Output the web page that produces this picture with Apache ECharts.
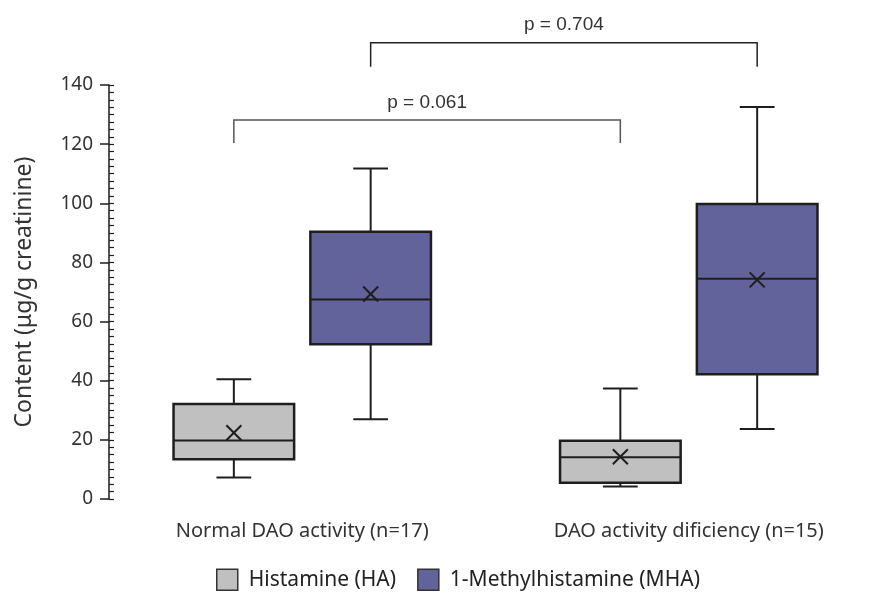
<!DOCTYPE html>
<html>
<head>
<meta charset="utf-8">
<script src="https://cdn.jsdelivr.net/npm/echarts@6/dist/echarts.min.js"></script>
<style>
  html, body { margin: 0; padding: 0; background: #fff; }
  #chart { width: 882px; height: 603px; }
</style>
</head>
<body>
<div id="chart"></div>
<script>
const groups = ['Normal DAO activity (n=17)', 'DAO activity dificiency (n=15)'];
// [min, Q1, median, Q3, max] for each group
const haBox = [[7.3, 13.4, 19.8, 32.1, 40.5], [4.2, 5.5, 14.1, 19.7, 37.4]];
const mhaBox = [[27.0, 52.3, 67.5, 90.4, 111.8], [23.7, 42.2, 74.5, 99.8, 132.6]];
const haMean = [22.4, 14.3];
const mhaMean = [69.3, 74.1];
const yMin = 0, yMax = 140, yStep = 20;
// significance brackets: label, which box (-1 = HA, 1 = MHA), leg bottom, bar height
const pLabels = ['p = 0.061', 'p = 0.704'];
const pSide = [-1, 1];
const pLow = [120.4, 146.2];
const pHigh = [128.2, 154.3];

const INK = '#1e1e1e';
const SHIFT = 0.177; // box offset from group centre, share of band

function boxItem(side) {
  return function (params, api) {
    const band = api.size([1, 0])[0];
    const g = api.value(0);
    const cx = api.coord([g, 0])[0] + side * band * SHIFT;
    const half = band * 0.156;
    const cap = band * 0.045;
    const y = i => api.coord([g, api.value(i)])[1];
    const lo = y(1), q1 = y(2), med = y(3), q3 = y(4), hi = y(5), mean = y(6);
    const ln = { stroke: INK, lineWidth: 2 };
    const m = 7.5;
    return {
      type: 'group',
      children: [
        { type: 'line', shape: { x1: cx, y1: hi, x2: cx, y2: q3 }, style: ln },
        { type: 'line', shape: { x1: cx, y1: q1, x2: cx, y2: lo }, style: ln },
        { type: 'line', shape: { x1: cx - cap, y1: hi, x2: cx + cap, y2: hi }, style: ln },
        { type: 'line', shape: { x1: cx - cap, y1: lo, x2: cx + cap, y2: lo }, style: ln },
        { type: 'rect', shape: { x: cx - half, y: q3, width: half * 2, height: q1 - q3 },
          style: { fill: api.visual('color'), stroke: INK, lineWidth: 2.5 } },
        { type: 'line', shape: { x1: cx - half, y1: med, x2: cx + half, y2: med }, style: ln },
        { type: 'line', shape: { x1: cx - m, y1: mean - m, x2: cx + m, y2: mean + m }, style: ln },
        { type: 'line', shape: { x1: cx - m, y1: mean + m, x2: cx + m, y2: mean - m }, style: ln }
      ]
    };
  };
}

function bracketItem(params, api) {
  const i = params.dataIndex;
  const band = api.size([1, 0])[0];
  const off = api.value(0) * band * SHIFT;
  const x1 = api.coord([0, 0])[0] + off;
  const x2 = api.coord([1, 0])[0] + off;
  const yl = api.coord([0, api.value(1)])[1];
  const yh = api.coord([0, api.value(2)])[1];
  return {
    type: 'group',
    children: [
      { type: 'polyline', shape: { points: [[x1, yl], [x1, yh], [x2, yh], [x2, yl]] },
        style: { stroke: i === 0 ? '#555' : '#222', lineWidth: 1.5, fill: null } },
      { type: 'text', x: (x1 + x2) / 2, y: yh - 8,
        style: { text: pLabels[i], align: 'center', verticalAlign: 'bottom',
                 fontFamily: 'Liberation Sans', fontSize: 19, fill: '#333' } }
    ]
  };
}

const chart = echarts.init(document.getElementById('chart'), null, { renderer: 'canvas' });

const option = {
  animation: false,
  backgroundColor: '#fff',
  grid: { left: 109, right: 0, top: 85, bottom: 104 },
  legend: {
    left: 211,
    bottom: 7,
    icon: 'rect',
    itemWidth: 21,
    itemHeight: 21,
    itemGap: 21,
    data: ['Histamine (HA)', '1-Methylhistamine (MHA)'],
    itemStyle: { borderColor: '#333', borderWidth: 1.5 },
    textStyle: { fontSize: 21, color: '#222', fontFamily: 'Noto Sans', padding: [0, 0, 0, 6] }
  },
  xAxis: {
    type: 'category',
    data: groups,
    axisLine: { show: false },
    axisTick: { show: false },
    splitLine: { show: false },
    axisLabel: { fontSize: 20, color: '#333', fontFamily: 'Noto Sans', margin: 22 }
  },
  yAxis: [
    {
      type: 'value',
      min: yMin, max: yMax, interval: yStep,
      position: 'left',
      name: 'Content (μg/g creatinine)',
      nameLocation: 'middle',
      nameGap: 73,
      nameTextStyle: { fontSize: 23, color: '#333', fontFamily: 'Noto Sans' },
      axisLine: { show: true, lineStyle: { color: INK, width: 1.5 } },
      axisTick: { show: true, length: 9, lineStyle: { color: INK, width: 1.5 } },
      splitLine: { show: false },
      axisLabel: { fontSize: 19, color: '#333', fontFamily: 'Noto Sans', margin: 16 }
    },
    {
      type: 'value',
      min: yMin, max: yMax, interval: yStep / 8,
      position: 'left',
      axisLine: { show: false },
      axisLabel: { show: false },
      splitLine: { show: false },
      axisTick: { show: true, inside: true, length: 5, lineStyle: { color: INK, width: 1.2 } }
    }
  ],
  series: [
    {
      name: 'Histamine (HA)',
      type: 'custom',
      itemStyle: { color: '#c0c0c0' },
      encode: { x: 0, y: [1, 2, 3, 4, 5, 6] },
      renderItem: boxItem(-1),
      data: haBox.map((b, i) => [i].concat(b, [haMean[i]]))
    },
    {
      name: '1-Methylhistamine (MHA)',
      type: 'custom',
      itemStyle: { color: '#63639c' },
      encode: { x: 0, y: [1, 2, 3, 4, 5, 6] },
      renderItem: boxItem(1),
      data: mhaBox.map((b, i) => [i].concat(b, [mhaMean[i]]))
    },
    {
      name: 'brackets',
      type: 'custom',
      silent: true,
      encode: { x: 0, y: [1, 2] },
      renderItem: bracketItem,
      data: pLabels.map((t, i) => [pSide[i], pLow[i], pHigh[i]])
    }
  ]
};

chart.setOption(option);
</script>
</body>
</html>
